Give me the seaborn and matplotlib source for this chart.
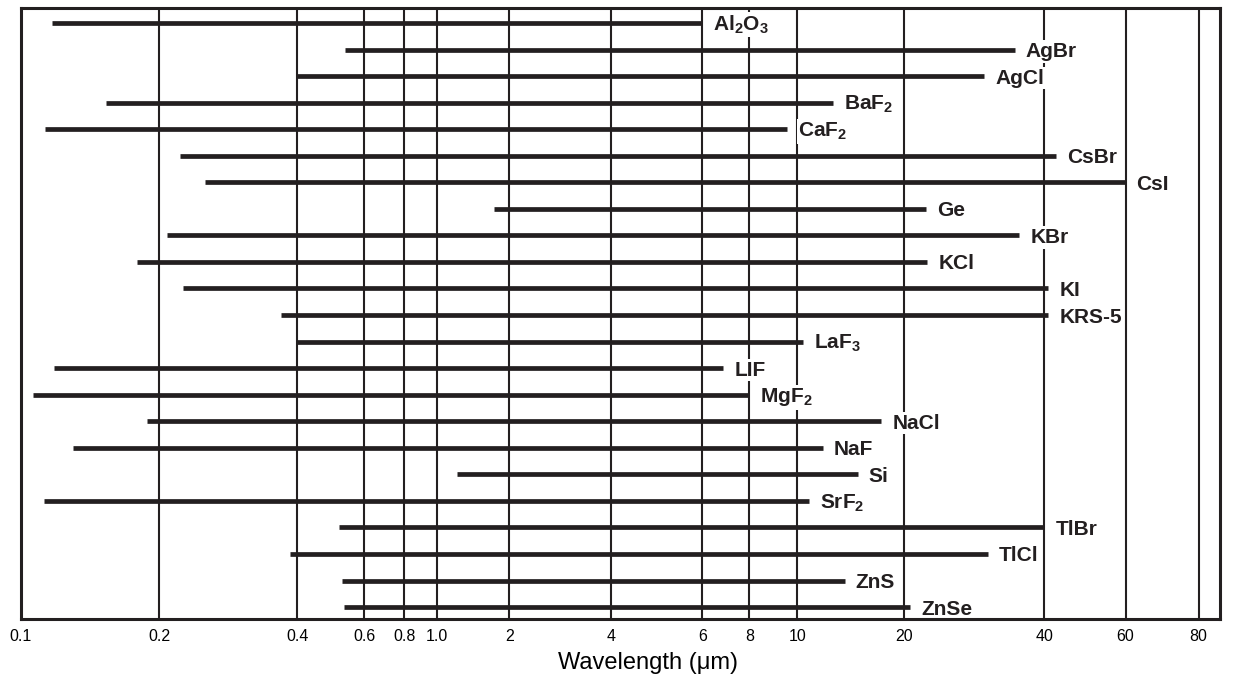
import numpy as np
import pandas as pd
import matplotlib
matplotlib.use("Agg")
import matplotlib.pyplot as plt
import seaborn as sns

# ---------------- data ----------------
materials = ["Al$_2$O$_3$", "AgBr", "AgCl", "BaF$_2$", "CaF$_2$", "CsBr", "CsI", "Ge",
             "KBr", "KCl", "KI", "KRS-5", "LaF$_3$", "LIF", "MgF$_2$", "NaCl", "NaF",
             "Si", "SrF$_2$", "TlBr", "TlCl", "ZnS", "ZnSe"]
range_start = [0.117, 0.535, 0.40, 0.153, 0.113, 0.222, 0.252, 1.73,
               0.208, 0.179, 0.226, 0.369, 0.40, 0.118, 0.106, 0.188, 0.130,
               1.21, 0.112, 0.516, 0.386, 0.525, 0.532]
range_end = [6.0, 34.5, 29.7, 12.6, 9.54, 42.3, 60.0, 22.3,
             35.3, 22.4, 40.8, 40.8, 10.4, 6.82, 8.0, 17.2, 11.8,
             14.8, 10.8, 40.0, 30.2, 13.6, 20.6]
tick_values = [0.1, 0.2, 0.4, 0.6, 0.8, 1.0, 2, 4, 6, 8, 10, 20, 40, 60, 80]
tick_labels = ["0.1", "0.2", "0.4", "0.6", "0.8", "1.0", "2", "4", "6", "8",
               "10", "20", "40", "60", "80"]
x_label = "Wavelength (\u03bcm)"

# ---------------- axis geometry (non-uniform printed log axis) ----------------
scale_vals = [0.01] + tick_values + [100, 1000]
scale_pos = [-437, 21, 159, 297, 364, 404, 437, 509, 611, 702, 749, 797,
             904, 1044, 1125, 1198, 1255, 1839]
LOGV = np.log10(np.array(scale_vals, dtype=float))
POS = np.array(scale_pos, dtype=float)


def fwd(x):
    x = np.asarray(x, dtype=float)
    lx = np.log10(np.clip(x, 1e-9, None))
    return np.interp(lx, LOGV, POS)


def inv(p):
    p = np.asarray(p, dtype=float)
    return 10 ** np.interp(p, POS, LOGV)


# ---------------- style ----------------
sns.set_style("white")
plt.rcParams["font.family"] = ["Liberation Sans", "DejaVu Sans"]
plt.rcParams["mathtext.default"] = "regular"

INK = "#231f20"

rows = np.arange(len(materials))
df = pd.DataFrame({
    "material": np.repeat(materials, 2),
    "row": np.repeat(rows, 2),
    "wavelength": np.ravel(np.column_stack([range_start, range_end])),
})

fig = plt.figure(figsize=(12.38, 6.76), dpi=100)
ax = fig.add_axes([21 / 1238, 1 - 619 / 676, (1220 - 21) / 1238, (619 - 8) / 676])

sns.lineplot(data=df, x="wavelength", y="row", units="material", estimator=None,
             sort=False, color=INK, linewidth=3.4, solid_capstyle="butt",
             legend=False, ax=ax, zorder=4)

ax.set_xscale("function", functions=(fwd, inv))
ax.set_xlim(0.1, 87)
ax.set_ylim(len(materials) - 1 + 0.45, -0.565)

ax.set_xticks(tick_values, tick_labels)
ax.set_xticks([8], minor=True)
ax.tick_params(axis="x", which="major", length=0, pad=7, labelsize=11.5, colors="black")
ax.tick_params(axis="x", which="minor", length=5, width=1.5, direction="out",
               bottom=True, color=INK)
ax.set_yticks([])
ax.set_ylabel("")

ax.grid(True, axis="x", which="major", color=INK, linewidth=1.5)
ax.grid(False, axis="y")
ax.set_axisbelow(True)

for s in ax.spines.values():
    s.set_visible(True)
    s.set_color(INK)
    s.set_linewidth(2.2)
    s.set_zorder(5)

ax.set_xlabel(x_label, fontsize=17, color="black")
ax.xaxis.set_label_coords((648 - 21) / 1199, -(652 - 619) / 611)
ax.xaxis.label.set_va("top")

for name, r, e in zip(materials, rows, range_end):
    ax.annotate(name, xy=(e, r), xytext=(11, -7.5), textcoords="offset pixels",
                ha="left", va="baseline", fontsize=15, fontweight="bold",
                color=INK, zorder=3,
                bbox=dict(boxstyle="square,pad=0.08", fc="white", ec="none"))

fig.savefig("out.png", dpi=100)
